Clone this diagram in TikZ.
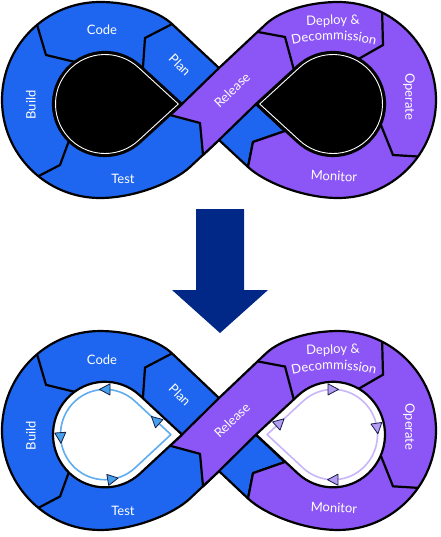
\documentclass[tikz,border=0pt]{standalone}
\usepackage{fontspec}
\usetikzlibrary{decorations.text}
\newfontfamily\labelfont{Lato}
\definecolor{segblue}{RGB}{30,102,240}
\definecolor{segviolet}{RGB}{140,85,245}
\definecolor{navyarrow}{RGB}{2,40,135}
\definecolor{loopblue}{RGB}{95,172,240}
\definecolor{loopviolet}{RGB}{200,182,250}
\definecolor{tipblue}{RGB}{70,160,235}
\definecolor{tipviolet}{RGB}{180,155,245}
\definecolor{tipline}{RGB}{20,30,70}

\newcommand{\bluepath}{(219,68) -- (172,24) .. controls (157.4,10.4) and (128,2) .. (100,2) arc[start angle=-90, end angle=-270, radius=98] .. controls (135,198) and (173.9,182) .. (190,167) -- (219,140) -- (248,167) -- (253,142) -- (285,131) -- (256,104) -- cycle}
\newcommand{\violetpath}{(219,68) -- (266,24) .. controls (280.6,10.4) and (310,2) .. (338,2) arc[start angle=-90, end angle=90, radius=98] .. controls (303,198) and (264.1,182) .. (248,167) -- (253,142) -- (285,131) -- (256,104) -- (219,140) -- (203,155) -- (200,123) -- (170,115) -- (182,104) -- cycle}
\newcommand{\holeL}{(182,104) -- (140.13,65.66) arc[start angle=-47.5, end angle=-312.5, radius=52] -- cycle}
\newcommand{\holeR}{(256,104) -- (297.87,65.66) arc[start angle=-132.5, end angle=132.5, radius=52] -- cycle}
\newcommand{\ringL}{(178.3,104) -- (138.44,67.5) arc[start angle=-47.5, end angle=-312.5, radius=49.5] -- cycle}
\newcommand{\ringR}{(259.7,104) -- (299.56,67.5) arc[start angle=-132.5, end angle=132.5, radius=49.5] -- cycle}
\newcommand{\loopL}{(170.9,104) -- (135.06,71.19) arc[start angle=-47.5, end angle=-312.5, radius=44.5] -- cycle}
\newcommand{\loopR}{(267.1,104) -- (302.94,71.19) arc[start angle=-132.5, end angle=132.5, radius=44.5] -- cycle}
\newcommand{\looptip}[4]{\filldraw[fill=#4, draw=tipline, line width=0.8pt, line join=round, shift={(#1,#2)}, rotate=#3] (5.5,0) -- (-5,5.5) -- (-5,-5.5) -- cycle;}

\newcommand{\lemniscatebody}[1]{%
  \fill[segblue] \bluepath;
  \draw[outline] \bluepath;
  \begin{scope}
    \clip \bluepath;
    \draw[divider] (36.8,24) -- (46,55) -- (80,63.2);
    \draw[divider] (176,22) -- (145,38) -- (142.5,74);
    \draw[divider] (33,179) -- (60,165) -- (70,138);
  \end{scope}
  \fill[segviolet] \violetpath;
  \draw[outline] \violetpath;
  \begin{scope}
    \clip \violetpath;
    \draw[divider] (250,30.5) -- (285,37) -- (294.5,72);
    \draw[divider] (382,8) -- (383,45) -- (356,60.4);
    \draw[divider] (380.5,124) -- (393,155) -- (426,157);
  \end{scope}
  \node[seglabel] (#1code) at (102,30) {Code};
  \node[seglabel, rotate=-45] (#1plan) at (180,65) {Plan};
  \node[seglabel, rotate=90] (#1build) at (31,105) {Build};
  \node[seglabel] (#1test) at (123,179) {Test};
  \node[seglabel, rotate=44] (#1release) at (232,90) {Release};
  \node[seglabel, rotate=2] (#1deploy) at (333,21) {Deploy \&};
  \path[decorate, decoration={text along path, text align=center,
      text={|\labelfont\fontsize{13}{15}\selectfont\color{white}|Decommission}}]
      (284.7,46.9) arc[start angle=-106, end angle=-74, radius=178.9];
  \node[seglabel, rotate=-90] (#1operate) at (409,96.5) {Operate};
  \node[seglabel, rotate=-3] (#1monitor) at (334,176) {Monitor};
}

\tikzset{
  seglabel/.style={text=white, font=\labelfont\fontsize{13}{15}\selectfont, inner sep=0pt},
  outline/.style={draw=black, line width=2.2pt, line join=round},
  divider/.style={draw=black, line width=2.2pt, line join=miter},
}

\begin{document}
\begin{tikzpicture}[x=1pt, y=-1pt]
  \useasboundingbox (0,0) rectangle (440,537);
  \fill[white] (0,0) rectangle (440,537);
  % top figure
  \begin{scope}
    \lemniscatebody{t}
    \fill[black] \holeL;
    \fill[black] \holeR;
    \draw[white, line width=0.9pt] \ringL;
    \draw[white, line width=0.9pt] \ringR;
    \draw[outline] \holeL;
    \draw[outline] \holeR;
  \end{scope}
  % arrow
  \fill[navyarrow] (196,209) -- (244,209) -- (244,290) -- (268,290) -- (220,333) -- (172,290) -- (196,290) -- cycle;
  % bottom figure
  \begin{scope}[shift={(0,329)}, yscale=1.015]
    \lemniscatebody{b}
    \fill[white] \holeL;
    \fill[white] \holeR;
    \draw[outline] \holeL;
    \draw[outline] \holeR;
    \draw[loopblue, line width=1.6pt, line join=round] \loopL;
    \draw[loopviolet, line width=1.6pt, line join=round] \loopR;
    \looptip{155.5}{89.9}{137.5}{tipblue}
    \looptip{105}{59.5}{180}{tipblue}
    \looptip{60.6}{107.1}{-86}{tipblue}
    \looptip{112.7}{147.8}{10}{tipblue}
    \looptip{280}{92.2}{42.5}{tipviolet}
    \looptip{333}{59.5}{0}{tipviolet}
    \looptip{377.1}{97.8}{-82}{tipviolet}
    \looptip{333}{148.5}{180}{tipviolet}
  \end{scope}
\end{tikzpicture}
\end{document}
